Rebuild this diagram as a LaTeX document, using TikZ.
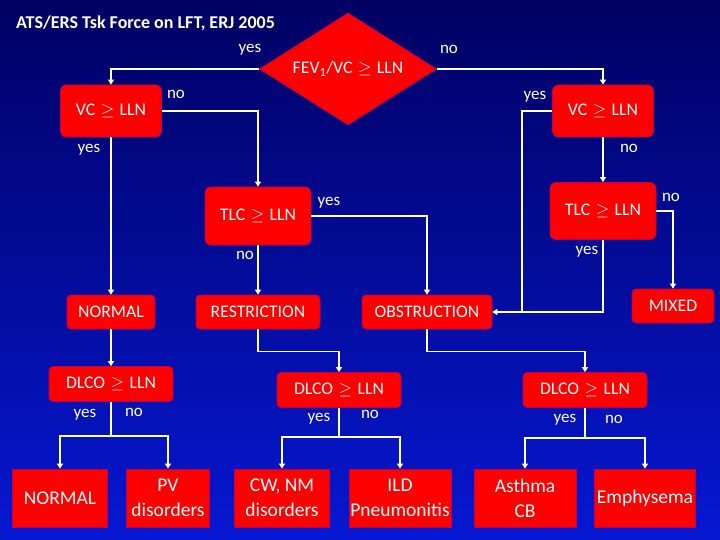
\documentclass[tikz,border=0pt]{standalone}
\usepackage{fontspec}
\setmainfont{Carlito}
\usetikzlibrary{positioning, arrows.meta, shapes.geometric}
\definecolor{boxred}{HTML}{FF0000}
\definecolor{rim}{HTML}{C0004E}
\definecolor{bgtop}{HTML}{000062}
\definecolor{bgmid}{HTML}{000FAA}
\definecolor{bgbot}{HTML}{0618D2}
\newcommand{\atleast}{\hspace{1.5pt}$\geq$\hspace{1.5pt}}

\begin{document}
\begin{tikzpicture}[
  x=1pt, y=-1pt,
  font=\fontsize{17.7}{22}\selectfont,
  box/.style={draw=rim, line width=0.8pt, fill=boxred, text=white, align=center,
              inner sep=0pt, rounded corners=6pt},
  test/.style={box, minimum width=101pt, minimum height=52pt},
  result/.style={box, rounded corners=4pt, minimum height=34pt},
  dlco/.style={box, rounded corners=4pt, minimum width=124pt, minimum height=35pt},
  leaf/.style={box, sharp corners, minimum height=58pt, font=\fontsize{19.5}{25}\selectfont},
  lbl/.style={text=white, inner sep=0pt, font=\fontsize{17}{20}\selectfont},
  wire/.style={draw=white, line width=1.8pt},
  arr/.style={wire, -{Triangle[length=5pt, width=6pt]}}
]
\shade[top color=bgtop, middle color=bgmid, bottom color=bgbot] (0,0) rectangle (720,540);
\useasboundingbox (0,0) rectangle (720,540);

\node[lbl, font=\bfseries\fontsize{18}{21}\selectfont, anchor=base west] (title) at (16,29)
  {ATS/ERS Tsk Force on LFT, ERJ 2005};

% decision nodes
\node[diamond, aspect=1.6, fill=boxred, draw=rim, line width=0.8pt, text=white, inner sep=0pt,
      minimum width=177pt, minimum height=112pt] (fev) at (348,69) {FEV\textsubscript{1}/VC \atleast{} LLN};
\node[test] (vcl) at (111,111) {VC \atleast{} LLN};
\node[test] (vcr) at (603,111) {VC \atleast{} LLN};
\node[test, minimum width=106pt, minimum height=58pt] (tlcl) at (258,216) {TLC \atleast{} LLN};
\node[test, minimum width=106pt, minimum height=57pt] (tlcr) at (603,211) {TLC \atleast{} LLN};

% patterns
\node[result, minimum width=88pt]  (normal) at (111,312) {NORMAL};
\node[result, minimum width=124pt] (restr)  at (258,312) {RESTRICTION};
\node[result, minimum width=130pt] (obstr)  at (427,312) {OBSTRUCTION};
\node[result, minimum width=82pt]  (mixed)  at (673,306) {MIXED};

\node[dlco] (dlcon) at (111,384) {DLCO \atleast{} LLN};
\node[dlco] (dlcor) at (339,390) {DLCO \atleast{} LLN};
\node[dlco] (dlcoo) at (585,390) {DLCO \atleast{} LLN};

% diagnoses
\node[leaf, minimum width=95pt]  (normleaf) at (60,498)  {NORMAL};
\node[leaf, minimum width=83pt]  (pv)       at (168,498) {PV\\disorders};
\node[leaf, minimum width=95pt]  (cwnm)     at (282,498) {CW, NM\\disorders};
\node[leaf, minimum width=102pt] (ild)      at (400,498) {ILD\\Pneumonitis};
\node[leaf, minimum width=102pt] (asthma)   at (525,498) {Asthma\\CB};
\node[leaf, minimum width=101pt] (emph)     at (645,498) {Emphysema};

% branch labels
\node[lbl] (fevyes)  at (250,50)  {yes};
\node[lbl] (fevno)   at (449,49)  {no};
\node[lbl] (vclno)   at (176,94)  {no};
\node[lbl] (vclyes)  at (89,150)  {yes};
\node[lbl] (vcryes)  at (535,97)  {yes};
\node[lbl] (vcrno)   at (629,148) {no};
\node[lbl] (tlclyes) at (329,203) {yes};
\node[lbl] (tlclno)  at (245,255) {no};
\node[lbl] (tlcrno)  at (671,197) {no};
\node[lbl] (tlcryes) at (587,252) {yes};
\node[lbl] (dnyes)   at (85,415)  {yes};
\node[lbl] (dnno)    at (134,412) {no};
\node[lbl] (dryes)   at (319,419) {yes};
\node[lbl] (drno)    at (370,414) {no};
\node[lbl] (doyes)   at (565,420) {yes};
\node[lbl] (dono)    at (614,419) {no};

% connectors
\draw[arr] (fev.west) -| (vcl.north);
\draw[arr] (fev.east) -| (vcr.north);
\draw[arr] (vcl.south) -- (normal.north);
\draw[arr] (vcl.east) -| (tlcl.north);
\draw[arr] (vcr.south) -- (tlcr.north);
\coordinate (merge) at (522,312);
\draw[wire] (vcr.west) -| (merge);
\draw[arr] (tlcr.south) |- (obstr.east);
\draw[arr] (tlcr.east) -| (mixed.north);
\draw[arr] (tlcl.east) -| (obstr.north);
\draw[arr] (tlcl.south) -- (restr.north);
\draw[arr] (normal.south) -- (dlcon.north);
\draw[arr] (restr.south) -- ++(0,22) -| (dlcor.north);
\draw[arr] (obstr.south) -- ++(0,22) -| (dlcoo.north);
\foreach \src/\dst/\drop in {dlcon/normleaf/34, dlcon/pv/34, dlcor/cwnm/29,
                             dlcor/ild/29, dlcoo/asthma/30, dlcoo/emph/30}
  \draw[arr] (\src.south) -- ++(0,\drop) -| (\dst.north);
\end{tikzpicture}
\end{document}
